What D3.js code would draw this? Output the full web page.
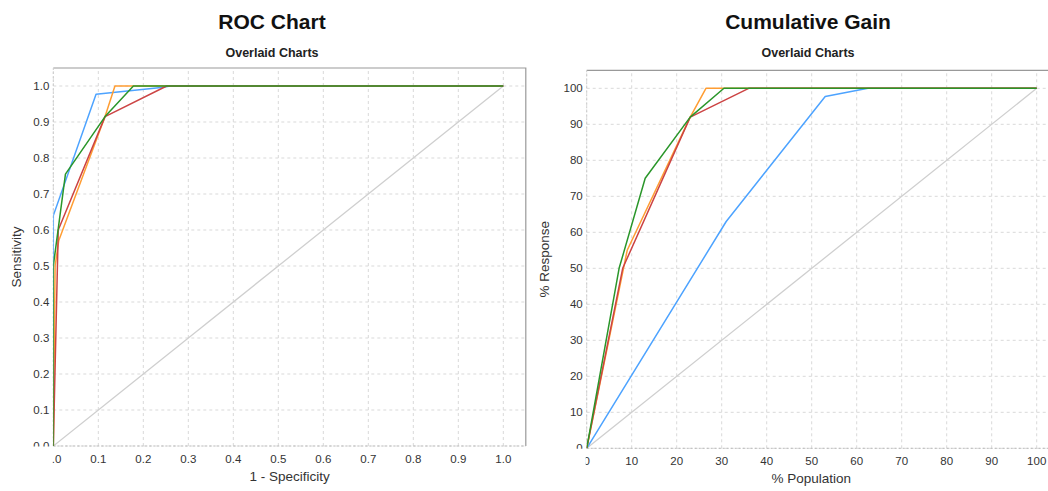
<!DOCTYPE html>
<html>
<head>
<meta charset="utf-8">
<script src="https://cdn.jsdelivr.net/npm/d3@7"></script>
<style>
  html, body { margin: 0; padding: 0; background: #fff; overflow: hidden; }
  svg { display: block; font-family: "Liberation Sans", Arial, sans-serif; }
</style>
</head>
<body>
<script>
(() => {
  const width = 1048;
  const height = 491;

  // ROC chart series: [1 - specificity, sensitivity]
  const rocBlue = [[0, 0], [0, 0.52], [0, 0.64], [0.095, 0.977], [0.24, 0.996], [0.26, 1], [1, 1]];
  const rocOrange = [[0, 0], [0.004, 0.5], [0.012, 0.57], [0.115, 0.915], [0.137, 1], [1, 1]];
  const rocRed = [[0, 0], [0.011, 0.6], [0.115, 0.915], [0.252, 1], [1, 1]];
  const rocGreen = [[0, 0], [0, 0.5], [0.027, 0.755], [0.115, 0.915], [0.178, 1], [1, 1]];
  const rocBaseline = [[0, 0], [1, 1]];
  const rocTicks = [0, 0.1, 0.2, 0.3, 0.4, 0.5, 0.6, 0.7, 0.8, 0.9, 1.0];

  // Cumulative gain series: [% population, % response]
  const gainBlue = [[0, 0], [31, 63], [53, 97.7], [62.5, 100], [100, 100]];
  const gainOrange = [[0, 0], [9, 55], [23, 92], [26.5, 100], [100, 100]];
  const gainRed = [[0, 0], [8, 50], [23, 92], [36, 100], [100, 100]];
  const gainGreen = [[0, 0], [7.2, 50], [13, 75], [23, 92], [30.5, 100], [100, 100]];
  const gainBaseline = [[0, 0], [100, 100]];
  const gainTicks = [0, 10, 20, 30, 40, 50, 60, 70, 80, 90, 100];

  const colors = { blue: "#4da3ff", orange: "#ff9d33", red: "#cc4444", green: "#2a962a", base: "#cfcfcf" };

  const svg = d3.select("body").append("svg").attr("width", width).attr("height", height);

  const drawChart = (opt) => {
    const x = d3.scaleLinear().domain([0, opt.max * 1.05]).range([opt.left, opt.left + 472.5]);
    const y = d3.scaleLinear().domain([0, opt.max * 1.05]).range([opt.bottom, opt.bottom - 378]);
    const [x0, x1] = x.range();
    const [y0, y1] = y.range();
    const id = opt.id;

    const defs = svg.append("defs");
    defs.append("clipPath").attr("id", id + "-plot")
      .append("rect").attr("x", x0).attr("y", y1).attr("width", x1 - x0).attr("height", y0 - y1);
    defs.append("clipPath").attr("id", id + "-xlab")
      .append("rect").attr("x", x0 - 1).attr("y", y0).attr("width", width).attr("height", 40);
    defs.append("clipPath").attr("id", id + "-ylab")
      .append("rect").attr("x", x0 - 60).attr("y", 0).attr("width", 60).attr("height", y0 + 0.5);

    // titles
    svg.append("text").attr("x", opt.titleX).attr("y", 29).attr("text-anchor", "middle")
      .attr("font-size", 21).attr("font-weight", "bold").attr("fill", "#111").text(opt.title);
    svg.append("text").attr("x", opt.titleX).attr("y", 57).attr("text-anchor", "middle")
      .attr("font-size", 12.5).attr("font-weight", "bold").attr("fill", "#222").text("Overlaid Charts");

    // grid
    const grid = svg.append("g").attr("stroke", "#d9d9d9").attr("stroke-dasharray", "3,3").attr("stroke-width", 1);
    grid.selectAll(".gx").data(opt.ticks).join("line")
      .attr("x1", (d) => x(d)).attr("x2", (d) => x(d)).attr("y1", y0).attr("y2", y1);
    grid.selectAll(".gy").data(opt.ticks).join("line")
      .attr("x1", x0).attr("x2", x1).attr("y1", (d) => y(d)).attr("y2", (d) => y(d));

    // top and right border
    svg.append("path").attr("d", `M${x0},${y1}H${x1}V${y0}`)
      .attr("fill", "none").attr("stroke", "#999").attr("stroke-width", 1.2);
    svg.append("line").attr("x1", x0).attr("x2", x0).attr("y1", y1).attr("y2", y0)
      .attr("stroke", "#ccc").attr("stroke-dasharray", "2,2");
    svg.append("line").attr("x1", x0).attr("x2", x1).attr("y1", y0).attr("y2", y0)
      .attr("stroke", "#bbb").attr("stroke-dasharray", "2,2");

    // tick labels
    svg.append("g").attr("clip-path", `url(#${id}-xlab)`)
      .selectAll("text").data(opt.ticks).join("text")
      .attr("x", (d) => x(d)).attr("y", y0 + 17).attr("text-anchor", "middle")
      .attr("font-size", 11.5).attr("fill", "#333").text(opt.fmt);
    svg.append("g").attr("clip-path", `url(#${id}-ylab)`)
      .selectAll("text").data(opt.ticks).join("text")
      .attr("x", x0 - 4).attr("y", (d) => y(d) + 4).attr("text-anchor", "end")
      .attr("font-size", 11.5).attr("fill", "#333").text(opt.fmt);

    // axis titles
    svg.append("text").attr("x", (x0 + Math.min(x1, width)) / 2 + opt.xLabelShift).attr("y", y0 + 35)
      .attr("text-anchor", "middle").attr("font-size", 13.5).attr("fill", "#333").text(opt.xLabel);
    svg.append("text").attr("transform", `translate(${opt.yLabelX},${(y0 + y1) / 2}) rotate(-90)`)
      .attr("text-anchor", "middle").attr("font-size", 13.5).attr("fill", "#333").text(opt.yLabel);

    // lines
    const line = d3.line().x((d) => x(d[0])).y((d) => y(d[1]));
    const plot = svg.append("g").attr("clip-path", `url(#${id}-plot)`).attr("fill", "none");
    opt.series.forEach((s) => {
      plot.append("path").attr("d", line(s.data)).attr("stroke", s.color)
        .attr("stroke-width", s.color === colors.base ? 1.3 : 1.5).attr("stroke-linejoin", "round");
    });
  };

  drawChart({
    id: "roc",
    title: "ROC Chart",
    titleX: 272,
    left: 53.3,
    bottom: 446,
    max: 1,
    ticks: rocTicks,
    fmt: d3.format(".1f"),
    xLabel: "1 - Specificity",
    xLabelShift: 0,
    yLabel: "Sensitivity",
    yLabelX: 21,
    series: [
      { data: rocBaseline, color: colors.base },
      { data: rocBlue, color: colors.blue },
      { data: rocOrange, color: colors.orange },
      { data: rocRed, color: colors.red },
      { data: rocGreen, color: colors.green },
    ],
  });

  drawChart({
    id: "gain",
    title: "Cumulative Gain",
    titleX: 808,
    left: 586.7,
    bottom: 448.3,
    max: 100,
    ticks: gainTicks,
    fmt: d3.format("d"),
    xLabel: "% Population",
    xLabelShift: -6,
    yLabel: "% Response",
    yLabelX: 549,
    series: [
      { data: gainBaseline, color: colors.base },
      { data: gainBlue, color: colors.blue },
      { data: gainOrange, color: colors.orange },
      { data: gainRed, color: colors.red },
      { data: gainGreen, color: colors.green },
    ],
  });
})();
</script>
</body>
</html>
